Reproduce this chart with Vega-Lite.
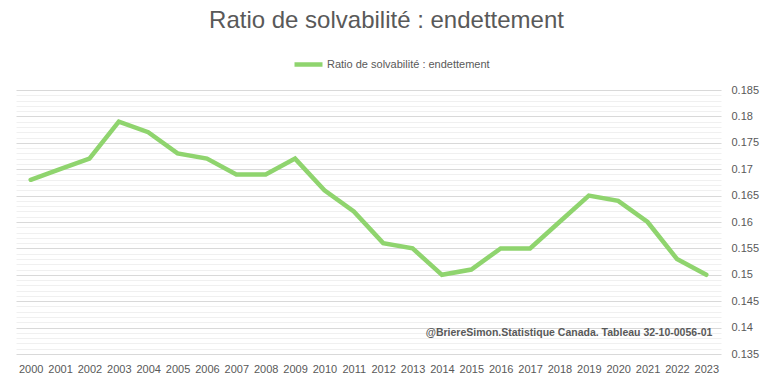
{
  "$schema": "https://vega.github.io/schema/vega-lite/v6.json",
  "width": 705,
  "height": 264,
  "autosize": {"type": "none"},
  "padding": {"left": 16, "top": 90, "right": 48, "bottom": 31},
  "background": "white",
  "title": {
    "text": "Ratio de solvabilité : endettement",
    "fontSize": 24,
    "font": "Liberation Sans",
    "fontWeight": "normal",
    "color": "#595959",
    "anchor": "middle",
    "dx": 18,
    "offset": 15
  },
  "config": {
    "view": {"stroke": null},
    "font": "Liberation Sans"
  },
  "data": {
    "values": [
      {"annee": "2000", "ratio": 0.168},
      {"annee": "2001", "ratio": 0.170},
      {"annee": "2002", "ratio": 0.172},
      {"annee": "2003", "ratio": 0.179},
      {"annee": "2004", "ratio": 0.177},
      {"annee": "2005", "ratio": 0.173},
      {"annee": "2006", "ratio": 0.172},
      {"annee": "2007", "ratio": 0.169},
      {"annee": "2008", "ratio": 0.169},
      {"annee": "2009", "ratio": 0.172},
      {"annee": "2010", "ratio": 0.166},
      {"annee": "2011", "ratio": 0.162},
      {"annee": "2012", "ratio": 0.156},
      {"annee": "2013", "ratio": 0.155},
      {"annee": "2014", "ratio": 0.150},
      {"annee": "2015", "ratio": 0.151},
      {"annee": "2016", "ratio": 0.155},
      {"annee": "2017", "ratio": 0.155},
      {"annee": "2018", "ratio": 0.160},
      {"annee": "2019", "ratio": 0.165},
      {"annee": "2020", "ratio": 0.164},
      {"annee": "2021", "ratio": 0.160},
      {"annee": "2022", "ratio": 0.153},
      {"annee": "2023", "ratio": 0.150}
    ]
  },
  "layer": [
    {
      "mark": {"type": "line", "strokeWidth": 4.5, "strokeJoin": "miter", "strokeCap": "round"},
      "encoding": {
        "x": {
          "field": "annee",
          "type": "ordinal",
          "scale": {"type": "point", "padding": 0.5},
          "axis": {
            "title": null,
            "labelAngle": 0,
            "domain": false,
            "ticks": false,
            "grid": false,
            "labelFontSize": 11,
            "labelColor": "#595959",
            "labelPadding": 9
          }
        },
        "y": {
          "field": "ratio",
          "type": "quantitative",
          "scale": {"domain": [0.135, 0.185], "nice": false, "zero": false},
          "axis": {
            "orient": "right",
            "title": null,
            "domain": false,
            "ticks": false,
            "grid": true,
            "tickCount": 100,
            "labelOverlap": false,
            "labelBound": false,
            "values": [0.135,0.136,0.137,0.138,0.139,0.14,0.141,0.142,0.143,0.144,0.145,0.146,0.147,0.148,0.149,0.15,0.151,0.152,0.153,0.154,0.155,0.156,0.157,0.158,0.159,0.16,0.161,0.162,0.163,0.164,0.165,0.166,0.167,0.168,0.169,0.17,0.171,0.172,0.173,0.174,0.175,0.176,0.177,0.178,0.179,0.18,0.181,0.182,0.183,0.184,0.185],
            "gridColor": {"condition": {"test": "round(datum.value*1000) % 5 == 0", "value": "#d9d9d9"}, "value": "#f0f0f0"},
            "gridWidth": 1,
            "labelExpr": "round(datum.value*1000) % 5 == 0 ? format(datum.value, '.3~f') : ''",
            "labelFontSize": 11,
            "labelColor": "#595959",
            "labelPadding": 10
          }
        },
        "color": {
          "datum": "Ratio de solvabilité : endettement",
          "scale": {"range": ["#8fd46e"]},
          "legend": {
            "title": null,
            "orient": "none",
            "legendX": 276,
            "legendY": -42,
            "symbolType": "stroke",
            "symbolSize": 784,
            "symbolStrokeWidth": 4.5,
            "labelFontSize": 11,
            "labelColor": "#595959",
            "labelOffset": 2,
            "labelLimit": 0
          }
        }
      }
    },
    {
      "data": {"values": [{"note": "@BriereSimon.Statistique Canada. Tableau 32-10-0056-01"}]},
      "mark": {"type": "text", "align": "right", "baseline": "middle", "fontWeight": "bold", "fontSize": 10.5, "color": "#595959", "dx": 6},
      "encoding": {
        "x": {"datum": "2023", "type": "ordinal"},
        "y": {"datum": 0.139, "type": "quantitative"},
        "text": {"field": "note"}
      }
    }
  ]
}
